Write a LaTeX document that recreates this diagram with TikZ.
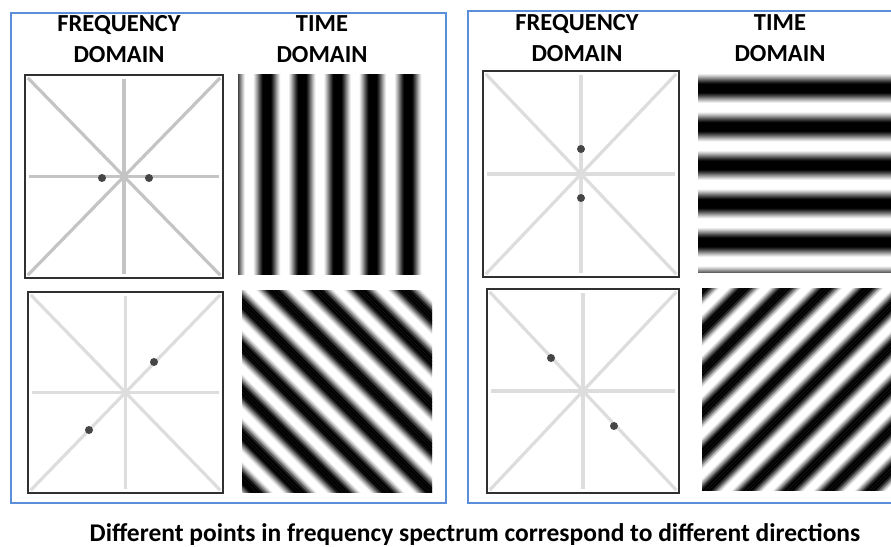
\documentclass[tikz,border=0pt]{standalone}
\usepackage{fontspec}
\setmainfont{Carlito}
\usetikzlibrary{positioning}
\definecolor{cframe}{HTML}{5B8ED8}
\definecolor{caxis}{HTML}{C4C4C4}
\definecolor{caxislight}{HTML}{DDDDDD}
\definecolor{cdot}{HTML}{454545}
\definecolor{cborder}{HTML}{303030}
\tikzset{
  frame/.style={draw=cframe, line width=2.6pt},
  head/.style={font=\bfseries\fontsize{24.5}{31}\selectfont, align=center, inner sep=0pt},
  caption/.style={font=\bfseries\fontsize{25.5}{28}\selectfont, inner sep=0pt},
  fbox/.style={draw=cborder, line width=1.4pt, inner sep=0pt},
  axis/.style={draw=#1, line width=3.2pt, shorten <=5pt, shorten >=5pt},
  axis/.default=caxislight,
  dot/.style={circle, fill=cdot, minimum size=8pt, inner sep=0pt},
}
% cosine grating: x0,y0,x1,y1, angle of normal, period, point on a dark band
\newcommand\drawgrating[8]{%
  \begin{scope}
    \clip (#1,#2) rectangle (#3,#4);
    \pgfmathsetmacro\gcx{(#1+#3)/2}
    \pgfmathsetmacro\gcy{(#2+#4)/2}
    \pgfmathsetmacro\gso{(#7-\gcx)*cos(#5)-(#8-\gcy)*sin(#5)}
    \pgfmathsetmacro\gk{360/#6}
    \begin{scope}[shift={(\gcx,\gcy)}, rotate=#5]
      \foreach \s in {-150,-149,...,150}{
        \pgfmathsetmacro\gl{max(0,min(100,50+65*cos(\gk*(\s+0.5-\gso))))}
        \fill[black!\gl] (\s,-150) rectangle (\s+1.25,150);
      }
    \end{scope}
  \end{scope}}

\begin{document}
\begin{tikzpicture}[x=1pt, y=-1pt]
  \useasboundingbox (0,0) rectangle (891,546);
  \clip (0,0) rectangle (891,546);
  % frames
  \draw[frame] (11,13) rectangle (446,503);
  \draw[frame] (468,11) rectangle (895,503);
  % headings
  \node[head] (hf1) at (119,39.5) {FREQUENCY\\DOMAIN};
  \node[head] (ht1) at (322,39.5) {TIME\\DOMAIN};
  \node[head] (hf2) at (577,38.5) {FREQUENCY\\DOMAIN};
  \node[head] (ht2) at (780,38.5) {TIME\\DOMAIN};
  % frequency domain boxes
  \node[fbox, minimum width=198, minimum height=203] (f1) at (124,176.5) {};
  \node[fbox, minimum width=195, minimum height=201] (f2) at (125.5,392.5) {};
  \node[fbox, minimum width=196, minimum height=206] (f3) at (581,174) {};
  \node[fbox, minimum width=192, minimum height=204] (f4) at (583,391) {};
  \foreach \b/\c in {f1/caxis, f2/caxislight, f3/caxislight, f4/caxislight}
    \foreach \p/\q in {north/south, west/east, north west/south east, north east/south west}
      \draw[axis=\c] (\b.\p) -- (\b.\q);
  % points in the spectrum
  \node[dot] (d1a) at (102,178) {};
  \node[dot] (d1b) at (149,178) {};
  \node[dot] (d2a) at (154,362) {};
  \node[dot] (d2b) at (89,430) {};
  \node[dot] (d3a) at (581,149) {};
  \node[dot] (d3b) at (581,198) {};
  \node[dot] (d4a) at (551,358) {};
  \node[dot] (d4b) at (614,426) {};
  % time domain gratings
  \drawgrating{238}{74}{422}{274}{0}{35.3}{267}{174}
  \drawgrating{698}{73}{895}{272}{90}{38.5}{800}{88}
  \drawgrating{242}{290}{432}{492}{45}{31}{242}{303}
  \drawgrating{702}{288}{895}{490}{-45}{29}{702}{290}
  % caption
  \node[caption, anchor=base] (cap) at (475,541) {Different points in frequency spectrum correspond to different directions};
\end{tikzpicture}
\end{document}
